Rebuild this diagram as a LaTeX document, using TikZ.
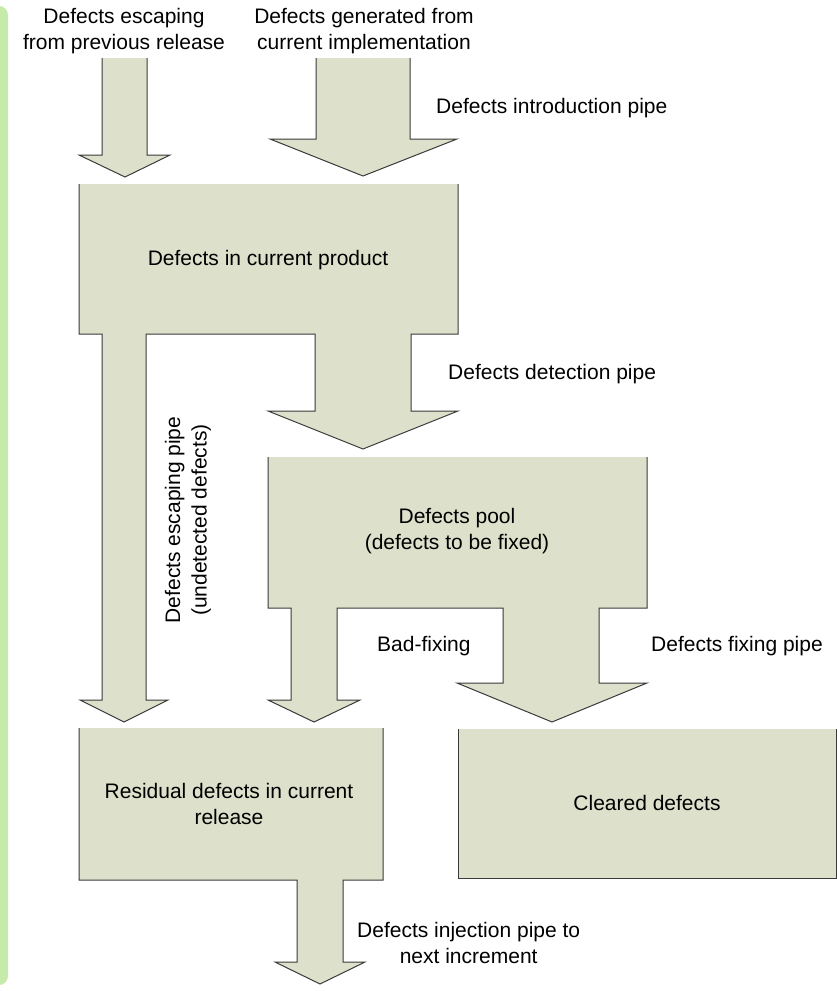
\documentclass[tikz,border=0pt]{standalone}
\usepackage{fontspec}
\setmainfont{Liberation Sans}
\definecolor{shapefill}{HTML}{DDE1CB}
\definecolor{shapeline}{HTML}{3A3A3A}
\definecolor{barfill}{HTML}{C6EAAA}
\newcommand\unitshape[1]{\fill[shapefill] #1 -- cycle; \draw[pipeline] #1;}
\begin{document}
\begin{tikzpicture}[x=1pt,y=-1pt,
  pipeline/.style={draw=shapeline,line width=1pt,line join=miter},
  lbl/.style={font=\fontsize{21}{26.5}\selectfont,inner sep=0pt,align=center,text=black}]
\clip (0,0) rectangle (837,991);
\fill[barfill,rounded corners=9pt] (-30,6) rectangle (8,985);
% top-left arrow
\unitshape{(102,58) -- (102,155) -- (79,155) -- (125,177) -- (170,155) -- (147,155) -- (147,58)}
% top-right arrow
\unitshape{(316,58) -- (316,139) -- (270,139) -- (363,176) -- (457,139) -- (410,139) -- (410,58)}
% current product box with escaping and detection pipes
\unitshape{(79,184) -- (79,334) -- (102,334) -- (102,700) -- (80,700) -- (124,722) -- (168,700) -- (146,700) -- (146,334) -- (315,334) -- (315,411) -- (268,411) -- (363,449) -- (458,411) -- (411,411) -- (411,334) -- (458,334) -- (458,184)}
% pool box with bad-fixing and fixing pipes
\unitshape{(268,457) -- (268,608) -- (291,608) -- (291,700) -- (268,700) -- (314,722) -- (360,700) -- (337,700) -- (337,608) -- (503,608) -- (503,683) -- (457,683) -- (552,722) -- (647,683) -- (599,683) -- (599,608) -- (647,608) -- (647,457)}
% residual box with injection pipe
\unitshape{(79,728) -- (79,880) -- (297,880) -- (297,962) -- (275,962) -- (320,984) -- (365,962) -- (343,962) -- (343,880) -- (383,880) -- (383,728)}
% cleared box
\unitshape{(458,729) -- (458,878) -- (836,878) -- (836,729)}
% labels
\node[lbl] (tprev) at (124,31) {Defects escaping\\from previous release};
\node[lbl] (tgen) at (364,31) {Defects generated from\\current implementation};
\node[lbl,anchor=west] (tintro) at (436,108) {Defects introduction pipe};
\node[lbl] (tprod) at (268,260) {Defects in current product};
\node[lbl,anchor=west] (tdet) at (448,374) {Defects detection pipe};
\node[lbl,rotate=90] (tesc) at (188,520) {Defects escaping pipe\\(undetected defects)};
\node[lbl] (tpool) at (457,531) {Defects pool\\(defects to be fixed)};
\node[lbl,anchor=west] (tbad) at (377,646) {Bad-fixing};
\node[lbl,anchor=west] (tfix) at (651,646) {Defects fixing pipe};
\node[lbl] (tres) at (229,804) {Residual defects in current\\release};
\node[lbl] (tclr) at (647,803) {Cleared defects};
\node[lbl,anchor=west] (tinj) at (357,943) {Defects injection pipe to\\next increment};
\end{tikzpicture}
\end{document}
